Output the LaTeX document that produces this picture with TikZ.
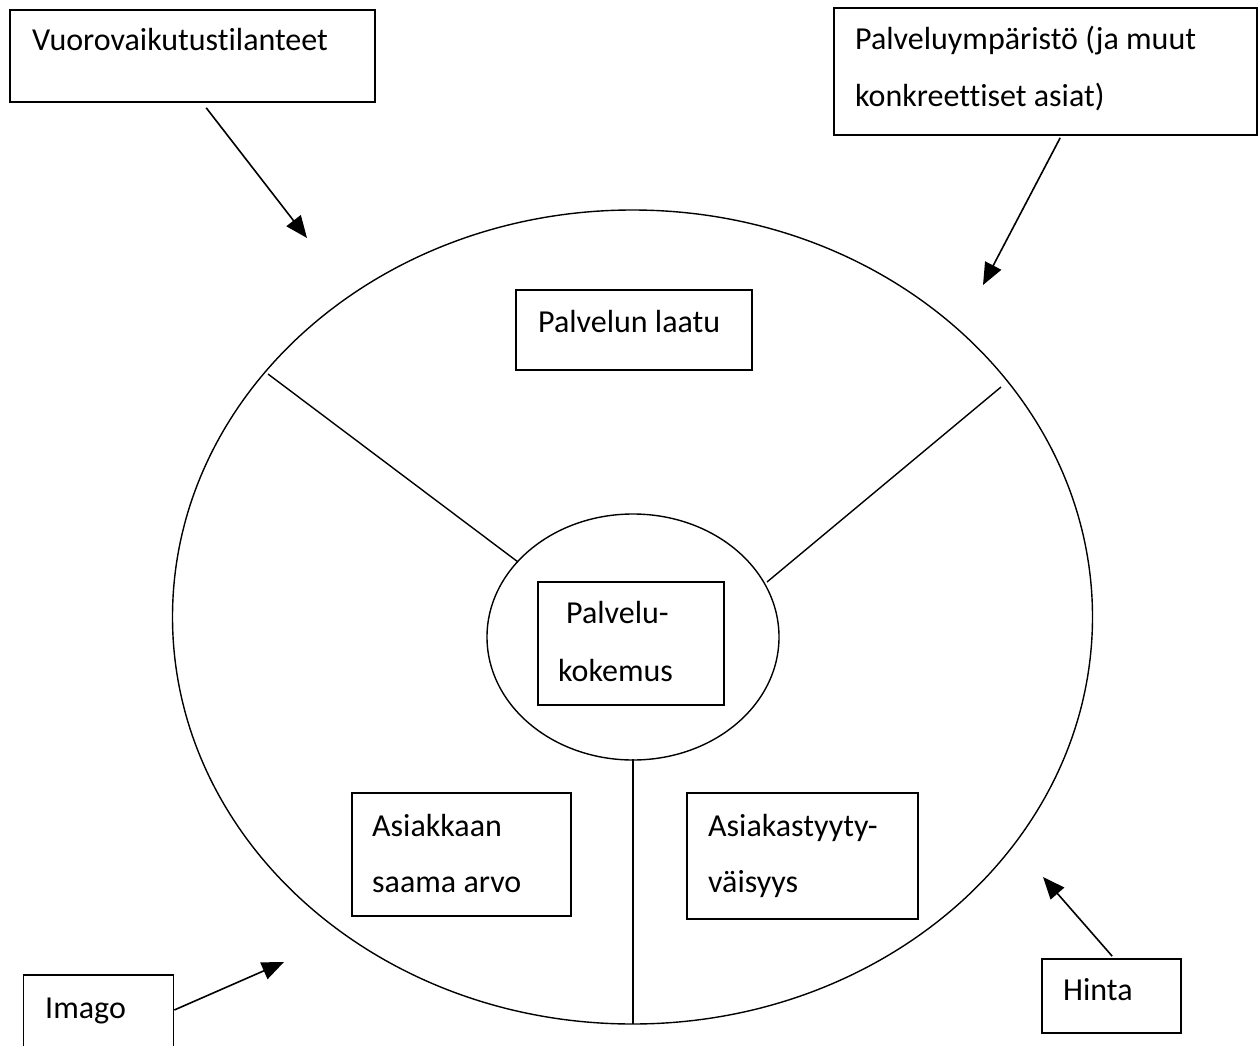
\documentclass[tikz,border=0pt]{standalone}
\usepackage{fontspec}
\setmainfont{Carlito}[Ligatures={NoCommon}]
\usetikzlibrary{arrows.meta,shapes.geometric}
\begin{document}
\begin{tikzpicture}[x=1pt,y=-1pt,
  box/.style={draw,line width=1.6pt,inner sep=0pt},
  txt/.style={font=\fontsize{32}{32}\selectfont,inner sep=0pt,anchor=base west},
  ell/.style={draw,ellipse,line width=1.4pt,inner sep=0pt},
  spoke/.style={line width=1.4pt},
  arr/.style={line width=1.6pt,-{Triangle[length=22pt,width=18pt]}}]
\useasboundingbox[fill=white] (0,0) rectangle (1258,1046);
% ellipses
\node[ell,minimum width=920,minimum height=814] (big) at (632.5,617) {};
\node[ell,minimum width=292,minimum height=246] (small) at (633,637) {};
% boxes
\node[box,minimum width=365,minimum height=92] (vt) at (192.5,56) {};
\node[box,minimum width=423,minimum height=127] (pu) at (1045.5,71.5) {};
\node[box,minimum width=236,minimum height=80] (pl) at (634,330) {};
\node[box,minimum width=186,minimum height=123] (pk) at (631,643.5) {};
\node[box,minimum width=219,minimum height=123] (as) at (461.5,854.5) {};
\node[box,minimum width=231,minimum height=126] (at) at (802.5,856) {};
\node[box,minimum width=150,minimum height=90] (im) at (98.5,1020) {};
\node[box,minimum width=139,minimum height=74] (hi) at (1111.5,996) {};
% texts
\node[txt] (t1) at (32,51) {Vuorovaikutustilanteet};
\node[txt] (t2) at (855,50) {Palveluympäristö (ja muut};
\node[txt] (t3) at (855,107) {konkreettiset asiat)};
\node[txt] (t4) at (538,332) {Palvelun laatu};
\node[txt] (t5) at (566,623) {Palvelu-};
\node[txt] (t6) at (558,681) {kokemus};
\node[txt] (t7) at (372,836) {Asiakkaan};
\node[txt] (t8) at (372,892) {saama arvo};
\node[txt] (t9) at (708,836) {Asiakastyyty-};
\node[txt] (t10) at (708,892) {väisyys};
\node[txt] (t11) at (45,1018) {Imago};
\node[txt] (t12) at (1063,1000) {Hinta};
% spokes
\coordinate (s1a) at (268,374);
\coordinate (s1b) at (518,562);
\coordinate (s2a) at (1001,387);
\coordinate (s2b) at (767,582);
\coordinate (s3a) at (633,759);
\coordinate (s3b) at (633,1024);
\draw[spoke] (s1a) -- (s1b);
\draw[spoke] (s2a) -- (s2b);
\draw[spoke] (s3a) -- (s3b);
% arrows
\coordinate (a1) at (307,238);
\coordinate (a2) at (983,285);
\coordinate (a3) at (284,962);
\coordinate (a4) at (1043,877);
\draw[arr] (vt.south west) ++(197,5) coordinate (a1s) (a1s) -- (a1);
\draw[arr] (pu.south west) ++(227,2) coordinate (a2s) (a2s) -- (a2);
\draw[arr] (im.east |- 0,1010) coordinate (a3s) (a3s) -- (a3);
\draw[arr] (hi.north west) ++(71,-2) coordinate (a4s) (a4s) -- (a4);
\end{tikzpicture}
\end{document}
